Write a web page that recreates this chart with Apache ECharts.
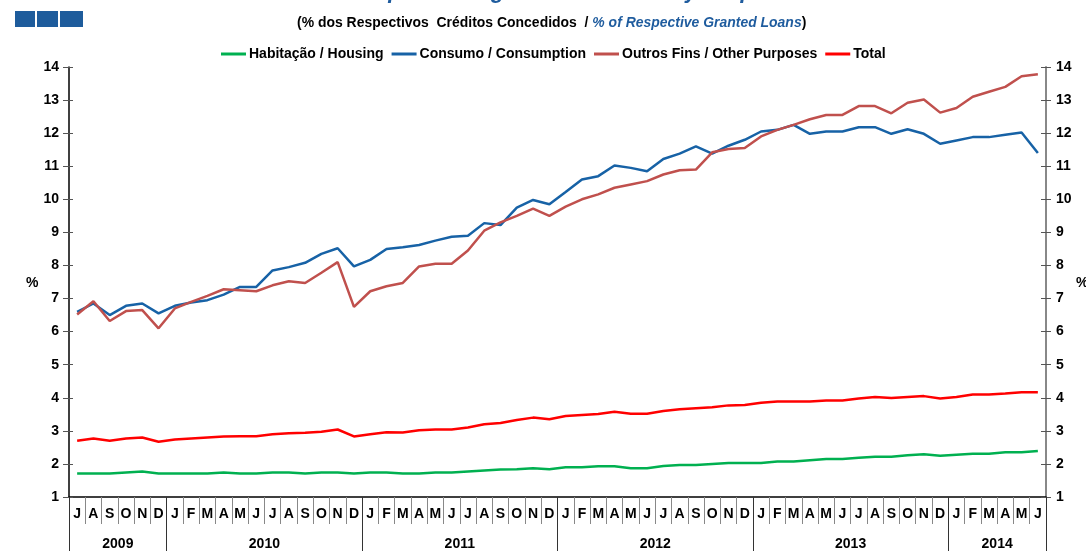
<!DOCTYPE html>
<html>
<head>
<meta charset="utf-8">
<script src="https://cdn.jsdelivr.net/npm/echarts@6/dist/echarts.min.js"></script>
<style>
  html, body { margin: 0; padding: 0; background: #fff; }
  #chart { width: 1086px; height: 551px; }
</style>
</head>
<body>
<div id="chart"></div>
<script>
const months = [
  "J", "A", "S", "O", "N", "D",
  "J", "F", "M", "A", "M", "J", "J", "A", "S", "O", "N", "D",
  "J", "F", "M", "A", "M", "J", "J", "A", "S", "O", "N", "D",
  "J", "F", "M", "A", "M", "J", "J", "A", "S", "O", "N", "D",
  "J", "F", "M", "A", "M", "J", "J", "A", "S", "O", "N", "D",
  "J", "F", "M", "A", "M", "J"
];
const years = ["2009", "2010", "2011", "2012", "2013", "2014"];
// year label positions / separators on a 0..60 month scale
const yearLabelPos = [3, 12, 24, 36, 48, 57];
const yearBreaks = [0, 6, 18, 30, 42, 54, 60];

const housing = [
  1.71, 1.71, 1.71, 1.74, 1.77, 1.71,
  1.71, 1.71, 1.71, 1.74, 1.71, 1.71, 1.74, 1.74, 1.71, 1.74, 1.74, 1.71,
  1.74, 1.74, 1.71, 1.71, 1.74, 1.74, 1.77, 1.80, 1.83, 1.84, 1.87, 1.84,
  1.90, 1.90, 1.93, 1.93, 1.87, 1.87, 1.94, 1.97, 1.97, 2.00, 2.03, 2.03,
  2.03, 2.07, 2.07, 2.11, 2.15, 2.15, 2.19, 2.22, 2.22, 2.26, 2.29, 2.25,
  2.28, 2.31, 2.31, 2.35, 2.35, 2.39
];
const consumption = [
  6.60, 6.85, 6.50, 6.78, 6.85, 6.55,
  6.78, 6.88, 6.95, 7.12, 7.35, 7.35, 7.85, 7.95, 8.08, 8.35, 8.52, 7.97,
  8.17, 8.50, 8.55, 8.62, 8.75, 8.87, 8.90, 9.28, 9.22, 9.75, 9.98, 9.85,
  10.22, 10.60, 10.70, 11.02, 10.95, 10.85, 11.22, 11.38, 11.60, 11.38, 11.62, 11.80,
  12.05, 12.10, 12.25, 11.98, 12.05, 12.05, 12.18, 12.18, 11.98, 12.12, 11.98, 11.68,
  11.78, 11.88, 11.88, 11.95, 12.02, 11.40
];
const otherPurposes = [
  6.52, 6.92, 6.32, 6.62, 6.65, 6.10,
  6.70, 6.90, 7.08, 7.28, 7.25, 7.22, 7.40, 7.52, 7.47, 7.78, 8.10, 6.75,
  7.22, 7.37, 7.47, 7.97, 8.05, 8.05, 8.45, 9.05, 9.30, 9.50, 9.72, 9.50,
  9.78, 10.00, 10.15, 10.35, 10.45, 10.55, 10.75, 10.88, 10.90, 11.42, 11.52, 11.55,
  11.90, 12.10, 12.25, 12.42, 12.55, 12.55, 12.82, 12.82, 12.60, 12.92, 13.02, 12.62,
  12.76, 13.10, 13.25, 13.40, 13.72, 13.78
];
const total = [
  2.70, 2.77, 2.70, 2.77, 2.80, 2.67,
  2.74, 2.77, 2.80, 2.83, 2.84, 2.84, 2.90, 2.93, 2.94, 2.97, 3.04, 2.83,
  2.90, 2.96, 2.95, 3.02, 3.04, 3.04, 3.10, 3.20, 3.24, 3.33, 3.40, 3.35,
  3.45, 3.48, 3.51, 3.58, 3.52, 3.52, 3.60, 3.65, 3.68, 3.71, 3.77, 3.78,
  3.85, 3.89, 3.89, 3.89, 3.92, 3.92, 3.98, 4.02, 3.99, 4.02, 4.05, 3.98,
  4.02, 4.10, 4.10, 4.13, 4.17, 4.17
];

const FONT = "Liberation Sans, Arial, sans-serif";
const BLUE_TXT = "#1f5c9e";

const myChart = echarts.init(document.getElementById("chart"));

const lineSeries = (name, data, color) => ({
  name: name,
  type: "line",
  data: data,
  symbol: "none",
  xAxisIndex: 0,
  yAxisIndex: 0,
  lineStyle: { color: color, width: 2.5 },
  itemStyle: { color: color }
});

const option = {
  animation: false,
  title: {
    text: "Non-performing Granted Loans by Purpose",
    left: 560,
    textAlign: "center",
    top: -24,
    textStyle: { fontFamily: FONT, fontSize: 22, fontWeight: "bold", fontStyle: "italic", color: BLUE_TXT }
  },
  graphic: [
    { type: "rect", shape: { x: 15, y: 11, width: 20, height: 16 }, style: { fill: "#1e5c9c" } },
    { type: "rect", shape: { x: 37, y: 11, width: 21, height: 16 }, style: { fill: "#1e5c9c" } },
    { type: "rect", shape: { x: 60, y: 11, width: 23, height: 16 }, style: { fill: "#1e5c9c" } },
    {
      type: "text", x: 297, y: 15, scaleX: 0.93,
      style: {
        text: "{a|(% dos Respectivos  Créditos Concedidos  / }{b|% of Respective Granted Loans}{a|)}",
        rich: {
          a: { fontFamily: FONT, fontSize: 15, fontWeight: "bold", fill: "#000" },
          b: { fontFamily: FONT, fontSize: 15, fontWeight: "bold", fontStyle: "italic", fill: BLUE_TXT }
        }
      }
    },
    { type: "text", left: 26, top: 276, style: { text: "%", fontFamily: FONT, fontSize: 14, fontWeight: "bold", fill: "#000" } },
    { type: "text", left: 1076, top: 276, style: { text: "%", fontFamily: FONT, fontSize: 14, fontWeight: "bold", fill: "#000" } }
  ],
  legend: {
    top: 42,
    left: 216,
    itemGap: 8,
    itemWidth: 25,
    itemHeight: 3,
    icon: "rect",
    textStyle: { fontFamily: FONT, fontSize: 14, fontWeight: "bold", color: "#000", padding: [0, 0, 0, -2] },
    data: [
      "Habitação / Housing",
      "Consumo / Consumption",
      "Outros Fins / Other Purposes",
      "Total"
    ]
  },
  grid: { left: 69, right: 40, top: 67, bottom: 50, containLabel: false },
  xAxis: [
    {
      type: "category",
      data: months,
      boundaryGap: true,
      axisLine: { lineStyle: { color: "#000", width: 1.5 } },
      axisTick: { show: true, interval: 0, length: 27, lineStyle: { color: "#888", width: 1 } },
      axisLabel: { interval: 0, margin: 10, fontFamily: FONT, fontSize: 14, fontWeight: "bold", color: "#000" }
    },
    {
      type: "value",
      min: 0,
      max: 60,
      position: "bottom",
      axisLine: { show: false },
      splitLine: { show: false },
      axisTick: { show: true, customValues: yearBreaks, length: 60, lineStyle: { color: "#333", width: 1 } },
      axisLabel: {
        customValues: yearLabelPos,
        margin: 40,
        fontFamily: FONT, fontSize: 14, fontWeight: "bold", color: "#000",
        formatter: (v) => years[yearLabelPos.indexOf(v)]
      }
    }
  ],
  yAxis: [
    {
      type: "value", position: "left", min: 1, max: 14, interval: 1,
      splitLine: { show: false },
      axisLine: { show: true, lineStyle: { color: "#000", width: 1.5 } },
      axisTick: { show: true, length: 6, lineStyle: { color: "#555" } },
      axisLabel: { margin: 10, fontFamily: FONT, fontSize: 14, fontWeight: "bold", color: "#000" }
    },
    {
      type: "value", position: "right", min: 1, max: 14, interval: 1,
      splitLine: { show: false },
      axisLine: { show: true, lineStyle: { color: "#888", width: 2 } },
      axisTick: { show: true, length: 5, lineStyle: { color: "#555" } },
      axisLabel: { margin: 10, fontFamily: FONT, fontSize: 14, fontWeight: "bold", color: "#000" }
    },
    {
      type: "value", position: "left", min: 1, max: 14, interval: 1,
      splitLine: { show: false },
      axisLine: { show: false },
      axisTick: { show: true, inside: true, length: 4, lineStyle: { color: "#555" } },
      axisLabel: { show: false }
    },
    {
      type: "value", position: "right", min: 1, max: 14, interval: 1,
      splitLine: { show: false },
      axisLine: { show: false },
      axisTick: { show: true, inside: true, length: 5, lineStyle: { color: "#555" } },
      axisLabel: { show: false }
    }
  ],
  series: [
    lineSeries("Habitação / Housing", housing, "#00b050"),
    lineSeries("Consumo / Consumption", consumption, "#1762a6"),
    lineSeries("Outros Fins / Other Purposes", otherPurposes, "#c0504d"),
    lineSeries("Total", total, "#ff0000")
  ]
};

myChart.setOption(option);
</script>
</body>
</html>
